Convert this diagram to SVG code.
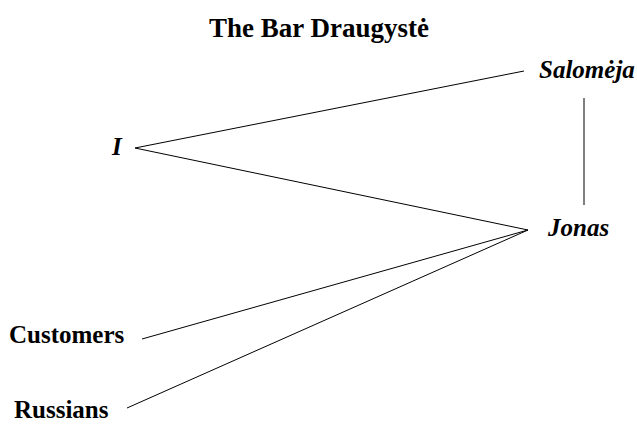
<svg xmlns="http://www.w3.org/2000/svg" width="637" height="441" viewBox="0 0 637 441">
<style>
.t{font-family:"Liberation Serif","Times New Roman",serif;font-weight:bold;fill:#000}
.it{font-style:italic}
.e{stroke:#000;stroke-width:1;fill:none}
</style>
<rect width="637" height="441" fill="#fff"/>
<text class="t" x="319" y="37" font-size="27" text-anchor="middle">The Bar Draugystė</text>
<g id="connectors">
<line class="e" x1="135" y1="148" x2="524" y2="71"/>
<line class="e" x1="584" y1="98" x2="584" y2="205"/>
<line class="e" x1="135" y1="148" x2="528" y2="230"/>
<line class="e" x1="142" y1="339" x2="528" y2="230"/>
<line class="e" x1="127" y1="408" x2="528" y2="230"/>
</g>
<g id="salomeja"><text class="t it" x="539" y="78" font-size="25">Salomėja</text></g>
<g id="i"><text class="t it" x="112" y="155" font-size="25">I</text></g>
<g id="jonas"><text class="t it" x="548" y="236" font-size="25">Jonas</text></g>
<g id="customers"><text class="t" x="9" y="343" font-size="25">Customers</text></g>
<g id="russians"><text class="t" x="14" y="418" font-size="25">Russians</text></g>
</svg>
